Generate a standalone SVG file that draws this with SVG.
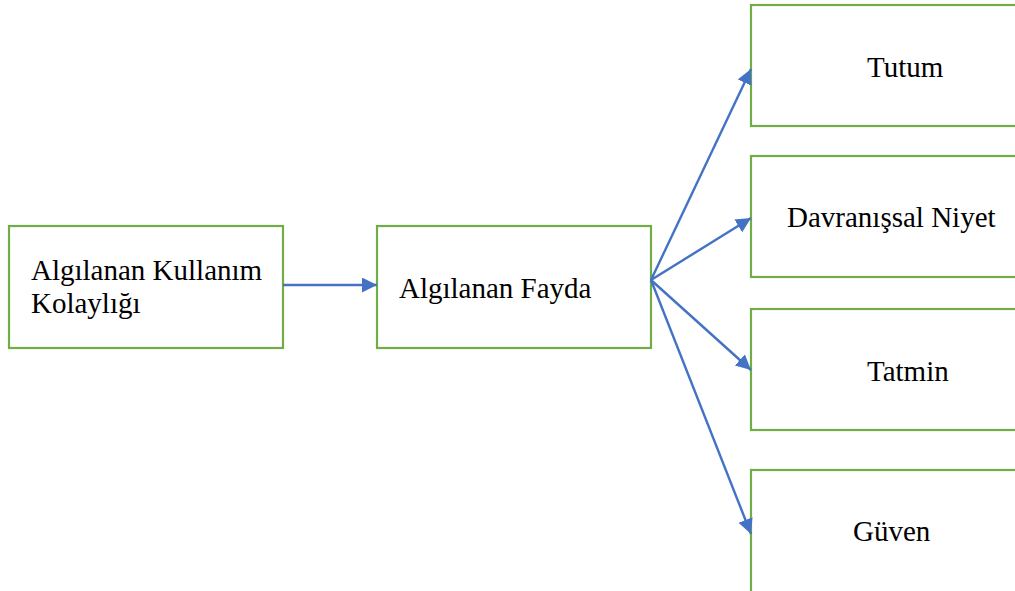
<svg xmlns="http://www.w3.org/2000/svg" width="1015" height="591" viewBox="0 0 1015 591">
<style>
.box{fill:#fff;stroke:#70AD47;stroke-width:2.2}
.lbl{font-family:"Liberation Serif","Times New Roman","DejaVu Serif",serif;font-size:29px;fill:#000}
.con{stroke:#4472C4;stroke-width:2.4;fill:none;marker-end:url(#ah)}
</style>
<defs>
<marker id="ah" markerUnits="userSpaceOnUse" markerWidth="17" markerHeight="16" refX="15" refY="7.5" orient="auto">
<path d="M0,0 L15,7.5 L0,15 z" fill="#4472C4"/>
</marker>
</defs>
<rect width="1015" height="591" fill="#fff"/>
<g id="n1"><rect class="box" x="9" y="226" width="274" height="122"/>
<text class="lbl" x="31" y="280">Algılanan Kullanım</text>
<text class="lbl" x="31" y="313">Kolaylığı</text></g>
<g id="n2"><rect class="box" x="377" y="226" width="274" height="122"/>
<text class="lbl" x="399" y="298">Algılanan Fayda</text></g>
<g id="n3"><rect class="box" x="751" y="5" width="300" height="121"/>
<text class="lbl" x="867" y="77">Tutum</text></g>
<g id="n4"><rect class="box" x="751" y="156" width="300" height="121"/>
<text class="lbl" x="787" y="227">Davranışsal Niyet</text></g>
<g id="n5"><rect class="box" x="751" y="309" width="300" height="121"/>
<text class="lbl" x="867" y="381">Tatmin</text></g>
<g id="n6"><rect class="box" x="751" y="470" width="300" height="130"/>
<text class="lbl" x="853" y="541">Güven</text></g>
<g id="connectors">
<line class="con" x1="283" y1="285" x2="377" y2="285"/>
<line class="con" x1="651" y1="280" x2="751" y2="69"/>
<line class="con" x1="651" y1="280" x2="751" y2="218"/>
<line class="con" x1="651" y1="280" x2="751" y2="370"/>
<line class="con" x1="651" y1="280" x2="751" y2="534"/>
</g>
</svg>
